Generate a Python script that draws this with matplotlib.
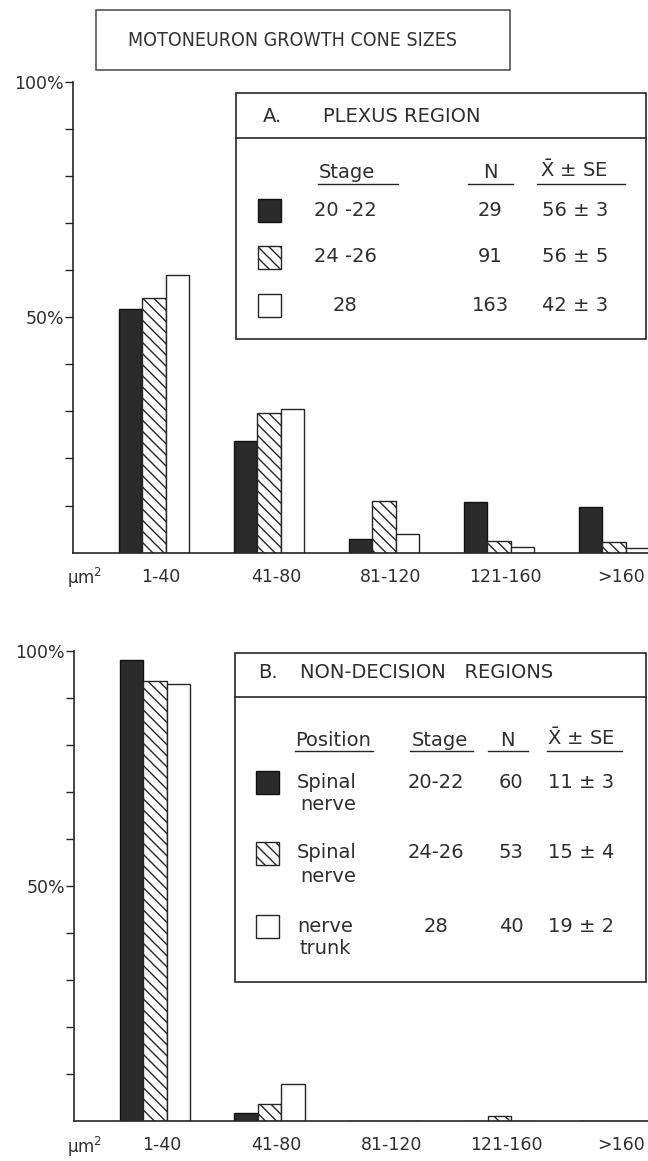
import matplotlib
matplotlib.use("Agg")
import matplotlib.pyplot as plt
from matplotlib.patches import Rectangle
from matplotlib.lines import Line2D
from matplotlib import font_manager
from matplotlib.font_manager import FontProperties
import numpy as np

# ---------------- data ----------------
categories = ["1-40", "41-80", "81-120", "121-160", ">160"]

# Panel A: plexus region (% of growth cones per size class)
plexus_st20_22 = [51.8, 23.6, 3.0, 10.7, 9.7]
plexus_st24_26 = [54.0, 29.6, 11.0, 2.5, 2.3]
plexus_st28 = [58.9, 30.5, 3.9, 1.3, 1.0]
plexus_stage = ["20 -22", "24 -26", "28"]
plexus_N = ["29", "91", "163"]
plexus_mean = ["56 ± 3", "56 ± 5", "42 ± 3"]

# Panel B: non-decision regions
nondec_st20_22 = [98.0, 1.8, 0.0, 0.0, 0.0]
nondec_st24_26 = [93.6, 3.6, 0.0, 1.1, 0.0]
nondec_st28 = [93.0, 7.8, 0.0, 0.0, 0.0]
nondec_pos1 = ["Spinal", "Spinal", "nerve"]
nondec_pos2 = ["nerve", "nerve", "trunk"]
nondec_stage = ["20-22", "24-26", "28"]
nondec_N = ["60", "53", "40"]
nondec_mean = ["11 ± 3", "15 ± 4", "19 ± 2"]

yticks = list(range(10, 101, 10))

# ---------------- style ----------------
W, H = 648, 1161
INK = "#262626"
TXT = "#2e2e2e"
plt.rcParams["font.family"] = ["DejaVu Sans"]
plt.rcParams["mathtext.fontset"] = "dejavusans"
plt.rcParams["hatch.linewidth"] = 1.0
plt.rcParams["hatch.color"] = INK

styles = [
    dict(facecolor="#2b2b2b", edgecolor="#111111", hatch=None),
    dict(facecolor="white", edgecolor=INK, hatch="\\\\\\"),
    dict(facecolor="white", edgecolor=INK, hatch=None),
]


def fx(px):
    return px / W


def fy(py):
    return 1 - py / H


fig = plt.figure(figsize=(W / 100, H / 100), dpi=100)

# title font: a condensed face if one is installed
title_kw = dict(family=["DejaVu Sans"], fontsize=12.4)
try:
    f = font_manager.findfont(FontProperties(family="DejaVu Sans", stretch="condensed"))
    if "ondensed" in f:
        title_kw = dict(family=["DejaVu Sans"], fontstretch="condensed", fontsize=14)
except Exception:
    pass
if title_kw["fontsize"] == 12.4:
    try:
        font_manager.findfont("Liberation Sans Narrow", fallback_to_default=False)
        title_kw = dict(family=["Liberation Sans Narrow"], fontsize=15)
    except Exception:
        pass


def make_axes(left_px, base_px, top_px, series):
    ax = fig.add_axes([fx(left_px), fy(base_px), 1 - fx(left_px), (base_px - top_px) / H])
    x = np.arange(len(categories))
    w = 0.204
    for k, vals in enumerate(series):
        st = styles[k]
        ax.bar(x + (k - 1) * w, vals, width=w, facecolor=st["facecolor"],
               edgecolor=st["edgecolor"], hatch=st["hatch"], linewidth=1.0, zorder=2)
    ax.set_xlim(-0.704, 4.296)
    ax.set_ylim(0, 100)
    for s in ("top", "right"):
        ax.spines[s].set_visible(False)
    for s in ("left", "bottom"):
        ax.spines[s].set_linewidth(1.2)
        ax.spines[s].set_color(INK)
    ax.set_yticks(yticks)
    ax.set_yticklabels(["50%" if v == 50 else "100%" if v == 100 else "" for v in yticks])
    ax.tick_params(axis="y", direction="out", length=6, width=1.0, color=INK,
                   labelsize=12.5, labelcolor=TXT, pad=0.5)
    ax.set_xticks(x + 0.06)
    ax.set_xticklabels(categories)
    ax.tick_params(axis="x", length=0, labelsize=12.5, labelcolor=TXT, pad=11)
    ax.patch.set_alpha(0)
    return ax


axA = make_axes(73, 552.7, 81.5, [plexus_st20_22, plexus_st24_26, plexus_st28])
axB = make_axes(74, 1121, 650.7, [nondec_st20_22, nondec_st24_26, nondec_st28])

fig.text(fx(85), fy(578), "μm$^2$", ha="center", va="center", fontsize=12, color=TXT)
fig.text(fx(85), fy(1147), "μm$^2$", ha="center", va="center", fontsize=12, color=TXT)

# ---------------- title box ----------------
fig.patches.append(Rectangle((fx(96), fy(70)), fx(510) - fx(96), (70 - 10) / H,
                             transform=fig.transFigure, fill=False, edgecolor="#555555", lw=1.2))
fig.text(fx(292), fy(41), "MOTONEURON GROWTH CONE SIZES", ha="center", va="center",
         color="#333333", **title_kw)


def swatch(xpx, ypx, k):
    st = styles[k]
    fig.patches.append(Rectangle((fx(xpx), fy(ypx + 11.5)), 23 / W, 23 / H,
                                 transform=fig.transFigure, facecolor=st["facecolor"],
                                 edgecolor=st["edgecolor"], hatch=st["hatch"], lw=1.0))


def hline(x0, x1, ypx, lw=1.0, color=INK):
    fig.add_artist(Line2D([fx(x0), fx(x1)], [fy(ypx), fy(ypx)], transform=fig.transFigure,
                          color=color, lw=lw))


FS = 14
XBAR = r"$\bar{\mathrm{X}}$ ± SE"

# ---------------- legend A ----------------
fig.patches.append(Rectangle((fx(236), fy(339)), fx(646) - fx(236), (339 - 93) / H,
                             transform=fig.transFigure, fill=False, edgecolor=INK, lw=1.2,
                             zorder=5))
hline(236, 646, 138, lw=1.2)
fig.text(fx(263), fy(117), "A.", ha="left", va="center", fontsize=FS, color=TXT)
fig.text(fx(323), fy(117), "PLEXUS REGION", ha="left", va="center", fontsize=FS, color=TXT)
fig.text(fx(347), fy(172), "Stage", ha="center", va="center", fontsize=FS, color=TXT)
fig.text(fx(490), fy(172), "N", ha="center", va="center", fontsize=FS, color=TXT)
fig.text(fx(574), fy(170), XBAR, ha="center", va="center", fontsize=FS, color=TXT)
hline(318, 398, 184)
hline(468, 513, 184)
hline(537, 625, 184)
for k, ypx in enumerate([210, 257, 305]):
    swatch(258, ypx, k)
    fig.text(fx(345), fy(ypx), plexus_stage[k], ha="center", va="center", fontsize=FS, color=TXT)
    fig.text(fx(490), fy(ypx), plexus_N[k], ha="center", va="center", fontsize=FS, color=TXT)
    fig.text(fx(575), fy(ypx), plexus_mean[k], ha="center", va="center", fontsize=FS, color=TXT)

# ---------------- legend B ----------------
fig.patches.append(Rectangle((fx(235), fy(982)), fx(646) - fx(235), (982 - 653) / H,
                             transform=fig.transFigure, fill=False, edgecolor=INK, lw=1.2,
                             zorder=5))
hline(235, 646, 697, lw=1.2)
fig.text(fx(258), fy(673), "B.", ha="left", va="center", fontsize=FS, color=TXT)
fig.text(fx(300), fy(673), "NON-DECISION   REGIONS", ha="left", va="center", fontsize=FS, color=TXT)
fig.text(fx(333), fy(740), "Position", ha="center", va="center", fontsize=FS, color=TXT)
fig.text(fx(440), fy(740), "Stage", ha="center", va="center", fontsize=FS, color=TXT)
fig.text(fx(507), fy(740), "N", ha="center", va="center", fontsize=FS, color=TXT)
fig.text(fx(581), fy(738), XBAR, ha="center", va="center", fontsize=FS, color=TXT)
hline(295, 373, 751)
hline(410, 473, 751)
hline(488, 528, 751)
hline(547, 622, 751)
for k, ypx in enumerate([782, 853, 926]):
    swatch(256, ypx, k)
    fig.text(fx(297), fy(ypx), nondec_pos1[k], ha="left", va="center", fontsize=FS, color=TXT)
    fig.text(fx(300), fy(ypx + 23), nondec_pos2[k], ha="left", va="center", fontsize=FS, color=TXT)
    fig.text(fx(436), fy(ypx), nondec_stage[k], ha="center", va="center", fontsize=FS, color=TXT)
    fig.text(fx(511), fy(ypx), nondec_N[k], ha="center", va="center", fontsize=FS, color=TXT)
    fig.text(fx(581), fy(ypx), nondec_mean[k], ha="center", va="center", fontsize=FS, color=TXT)

fig.savefig("out.png", dpi=100)
